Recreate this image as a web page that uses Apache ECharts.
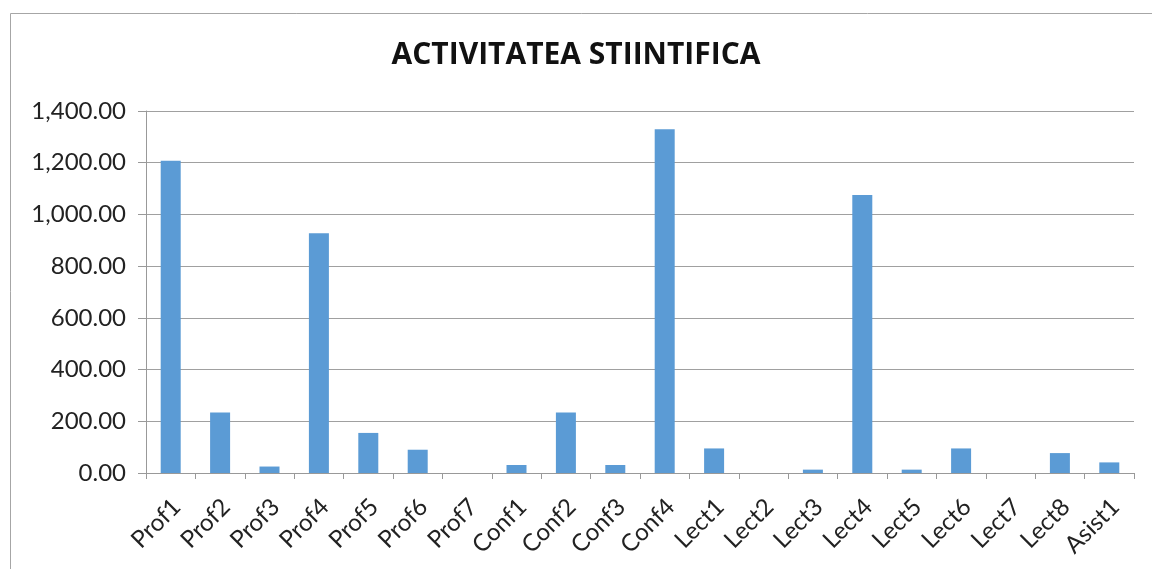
<!DOCTYPE html>
<html>
<head>
<meta charset="utf-8">
<script src="https://cdn.jsdelivr.net/npm/echarts@6/dist/echarts.min.js"></script>
<style>
html,body{margin:0;padding:0;background:#fff;}
#c{width:1152px;height:569px;}
</style>
</head>
<body>
<div id="c"></div>
<script>
const title = "ACTIVITATEA STIINTIFICA";
const categories = ["Prof1","Prof2","Prof3","Prof4","Prof5","Prof6","Prof7","Conf1","Conf2","Conf3","Conf4","Lect1","Lect2","Lect3","Lect4","Lect5","Lect6","Lect7","Lect8","Asist1"];
const values = [1208, 234, 25, 927, 155, 90, 0, 31, 234, 31, 1329, 95, 0, 13, 1075, 13, 95, 0, 77, 41];
const yMin = 0, yMax = 1400, yStep = 200;

const chart = echarts.init(document.getElementById('c'), null, {renderer:'canvas'});
const fontFam = 'Lato, "Open Sans", sans-serif';
chart.setOption({
  animation:false,
  backgroundColor:'#fff',
  graphic:[{type:'rect', shape:{x:10.5,y:13.5,width:1200,height:600}, style:{fill:'none', stroke:'#a6a6a6', lineWidth:1}, silent:true}],
  title:{text:title, left:'center', top:35, textStyle:{fontFamily:'"Open Sans", sans-serif', fontWeight:'bold', fontSize:30, color:'#111'}},
  grid:{left:146, right:18, top:111, bottom:96, containLabel:false},
  xAxis:{type:'category', data:categories,
    axisLine:{lineStyle:{color:'#999', width:1}},
    axisTick:{show:true, length:6, alignWithLabel:false, lineStyle:{color:'#999'}},
    axisLabel:{rotate:45, fontSize:24, lineHeight:17, fontFamily:fontFam, color:'#222', margin:24, interval:0, align:'right', verticalAlign:'top'}},
  yAxis:{type:'value', min:yMin, max:yMax, interval:yStep,
    axisLine:{show:true, lineStyle:{color:'#999'}},
    axisTick:{show:true, length:8, lineStyle:{color:'#999'}},
    splitLine:{lineStyle:{color:'#a0a0a0', width:1}},
    axisLabel:{fontSize:24, fontFamily:fontFam, color:'#222', margin:20,
      formatter:v=>v.toLocaleString('en-US',{minimumFractionDigits:2, maximumFractionDigits:2})}},
  series:[{type:'bar', data:values, barWidth:20, itemStyle:{color:'#5B9BD5'}}]
});
</script>
</body>
</html>
